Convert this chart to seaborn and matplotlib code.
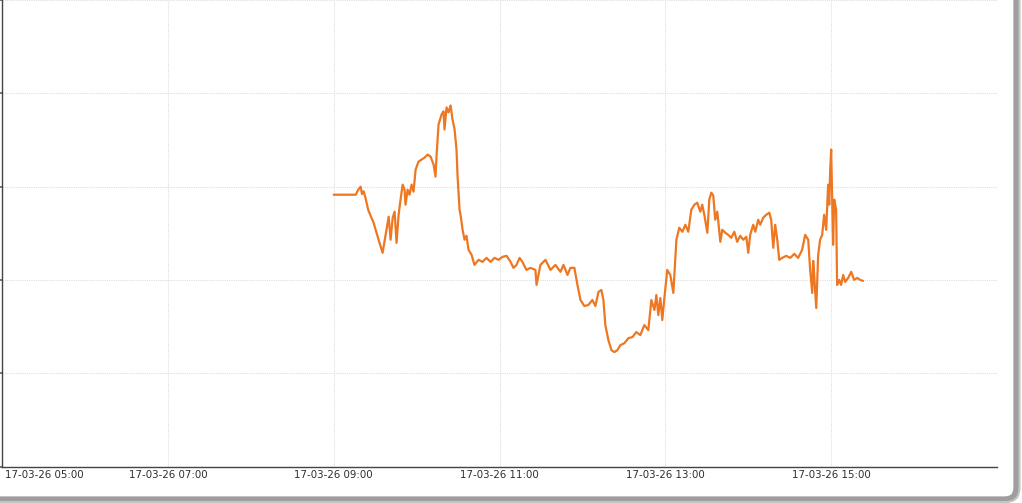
import matplotlib
matplotlib.use("Agg")
import matplotlib.pyplot as plt
import matplotlib.dates as mdates
from matplotlib.patches import FancyBboxPatch
from matplotlib.transforms import IdentityTransform, offset_copy
import seaborn as sns
import pandas as pd

# ---- data (minutes after 09:00, value in arbitrary price units) ----
minutes = [0, 16, 17.5, 19.5, 20.5, 21.7, 23, 25, 28.9, 32.5, 35.4, 37.6, 39.8, 41.2, 42.7,
           44.1, 45.5, 47, 48.4, 49.9, 51.3, 52, 53.5, 54.9, 56.4, 57.8, 59.3, 61.4, 63.6,
           65.8, 68, 70.1, 72.3, 73.7, 74.5, 75.9, 78.1, 79.5, 80.2, 81.7, 83.1, 84.6, 86,
           87.5, 88.9, 89.6, 91.1, 91.8, 93.3, 94.7, 96.1, 97.6, 99.8, 101.9, 104.8, 107.7,
           110.6, 113.5, 116.4, 119.3, 122.2, 125.1, 128, 130.1, 132.3, 134.5, 136.6, 139.5,
           142.4, 146, 146.8, 149.6, 153.3, 156.9, 160.5, 164.1, 166.3, 169.2, 171.3, 174.2,
           176.4, 178.6, 181.4, 184.3, 187.2, 189.4, 191.6, 193.7, 195.2, 196.6, 198.8, 201,
           203.1, 205.3, 207.5, 210.4, 213.3, 216.2, 219, 221.9, 224.8, 227.7, 229.9, 232.1,
           233.5, 234.9, 236.4, 237.8, 239.3, 241.4, 243.6, 245.8, 248, 250.1, 252.3, 254.5,
           256.6, 258.8, 261, 263.1, 265.3, 266.7, 268.2, 270.4, 271.8, 273.3, 274.7, 276.1,
           277.6, 279.8, 281.2, 283.4, 285.5, 287.7, 289.9, 292, 294.2, 296.4, 298.6, 300,
           301.4, 303.6, 305.1, 307.2, 308.7, 310.8, 313, 315.2, 316.6, 318.1, 319.5, 321,
           322.4, 324.6, 327.5, 330.4, 333.3, 336.1, 339, 341.2, 343.4, 344.8, 346.3, 347,
           347.7, 349.2, 350.6, 352, 353.5, 354.9, 356.4, 357.8, 358.6, 359.3, 360, 360.7,
           361.4, 362.2, 363.6, 364.3, 365.8, 367.2, 368.7, 370.1, 372.3, 374.5, 376.6,
           378.8, 381, 383.1]
values = [29.13, 29.13, 29.6, 29.99, 29.2, 29.5, 28.8, 27.5, 26.12, 24.30, 22.90, 24.83, 26.77,
          24.30, 26.66, 27.31, 23.97, 26.98, 28.60, 30.21, 29.67, 28.06, 29.67, 29.13, 30.21,
          29.46, 31.82, 32.68, 32.90, 33.11, 33.43, 33.22, 32.36, 31.07, 33.43, 36.66, 37.73,
          38.06, 36.12, 38.49, 37.95, 38.70, 37.20, 36.12, 33.97, 31.28, 27.52, 26.98, 25.37,
          24.30, 24.73, 23.22, 22.68, 21.61, 22.15, 21.93, 22.36, 21.93, 22.36, 22.15, 22.47,
          22.58, 21.93, 21.29, 21.61, 22.36, 21.93, 21.07, 21.29, 21.07, 19.46, 21.61, 22.15,
          21.07, 21.61, 20.86, 21.61, 20.53, 21.29, 21.29, 19.46, 17.85, 17.20, 17.31, 17.85,
          17.20, 18.71, 18.92, 17.85, 15.16, 13.55, 12.47, 12.26, 12.47, 13.01, 13.22, 13.76,
          13.87, 14.41, 14.08, 15.16, 14.62, 17.85, 16.77, 18.38, 16.23, 18.06, 15.70, 18.06,
          21.07, 20.53, 18.60, 24.30, 25.59, 25.16, 25.91, 25.16, 27.52, 28.06, 28.27, 27.31,
          28.06, 26.98, 25.05, 28.60, 29.35, 29.03, 26.45, 27.31, 24.08, 25.37, 25.05, 24.83,
          24.51, 25.16, 24.08, 24.73, 24.30, 24.62, 22.90, 24.83, 25.91, 25.16, 26.45, 25.91,
          26.66, 26.98, 27.20, 26.45, 23.44, 25.91, 24.30, 22.15, 22.36, 22.58, 22.36, 22.79,
          22.36, 23.22, 24.83, 24.30, 21.07, 18.60, 22.04, 20.53, 16.99, 22.68, 24.30, 24.83,
          26.98, 25.37, 30.21, 28.06, 31.82, 33.97, 28.60, 23.76, 28.60, 27.52, 19.46, 20.00,
          19.46, 20.53, 19.78, 20.21, 20.86, 20.00, 20.21, 20.00, 19.89]

x_start = "2017-03-26 05:00"
x_end = "2017-03-26 17:00"
series_start = "2017-03-26 09:00"
y_grid = [0, 10, 20, 30, 40, 50]

df = pd.DataFrame({
    "time": pd.Timestamp(series_start) + pd.to_timedelta(minutes, unit="m"),
    "value": values,
})

sns.set_theme(style="white")
plt.rcParams["font.family"] = ["DejaVu Sans"]

W, H = 1022, 503
fig = plt.figure(figsize=(W / 100, H / 100), dpi=100)
fig.patch.set_facecolor("white")
ax = fig.add_axes([2 / W, (H - 466.5) / H, 995 / W, 466.5 / H])
ax.set_facecolor("white")

sns.lineplot(data=df, x="time", y="value", ax=ax, color="#EE7722", linewidth=1.6)

ax.set_xlim(pd.Timestamp(x_start), pd.Timestamp(x_end))
ax.set_ylim(y_grid[0], y_grid[-1])
ax.set_yticks(y_grid)
ax.set_yticklabels([])
ax.xaxis.set_major_locator(mdates.HourLocator(byhour=[5, 7, 9, 11, 13, 15, 17]))
ax.xaxis.set_major_formatter(mdates.DateFormatter("%y-%m-%d %H:%M"))
ax.grid(True, color="#dedede", linestyle=(0, (1, 1)), linewidth=0.8)
ax.set_xlabel("")
ax.set_ylabel("")

for side in ["top", "right"]:
    ax.spines[side].set_visible(False)
for side in ["left", "bottom"]:
    ax.spines[side].set_color("#444444")
    ax.spines[side].set_linewidth(1.0)

ax.tick_params(axis="x", length=0, pad=2.5, labelsize=7.4, labelcolor="#2e2e2e")
ax.tick_params(axis="y", length=2, color="#666666", left=True)

fig.canvas.draw()
labels = ax.get_xticklabels()
for lab in labels:
    if lab.get_text().endswith("17:00"):
        lab.set_visible(False)
if labels:
    labels[0].set_horizontalalignment("left")
    labels[0].set_transform(offset_copy(labels[0].get_transform(), fig=fig, x=3, units="dots"))

# window frame (right and bottom border with rounded corner)
frame = FancyBboxPatch((-60, 3.5), 1016.5 + 60, 700,
                       boxstyle="round,pad=0,rounding_size=12",
                       transform=IdentityTransform(), facecolor="none",
                       edgecolor="#9e9e9e", linewidth=4.5, zorder=10)
fig.patches.append(frame)
frame2 = FancyBboxPatch((-60, 1), 1019.5 + 60, 703,
                        boxstyle="round,pad=0,rounding_size=14",
                        transform=IdentityTransform(), facecolor="none",
                        edgecolor="#c4c4c4", linewidth=1.5, zorder=10)
fig.patches.append(frame2)

fig.savefig("out.png", dpi=100, facecolor="white")
